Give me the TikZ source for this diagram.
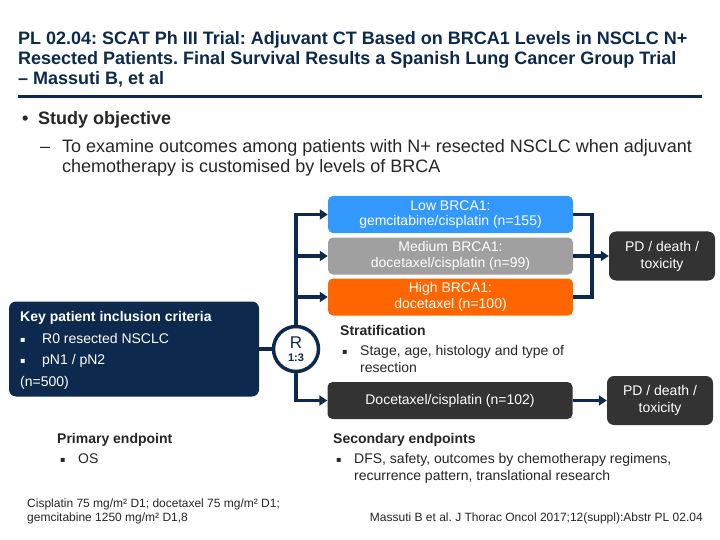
\documentclass[tikz,border=0pt]{standalone}
\usepackage{fontspec}
\setmainfont{Liberation Sans}
\newfontfamily\djv{DejaVu Sans}
\usetikzlibrary{arrows.meta}
\frenchspacing
\definecolor{navy}{HTML}{0D2A4E}
\definecolor{lowblue}{HTML}{3399FF}
\definecolor{medgray}{HTML}{A0A0A0}
\definecolor{hiorange}{HTML}{FF6600}
\definecolor{darkbox}{HTML}{333333}
\definecolor{bodytext}{HTML}{262626}
\tikzset{
  titletxt/.style={anchor=base west, inner sep=0, text=navy, font=\fontsize{18}{20}\selectfont\bfseries},
  bodytxt/.style={anchor=base west, inner sep=0, text=bodytext, font=\fontsize{18}{20}\selectfont},
  smalltxt/.style={anchor=base west, inner sep=0, text=bodytext, font=\fontsize{14}{16}\selectfont},
  smallbold/.style={anchor=base west, inner sep=0, text=bodytext, font=\fontsize{14}{16}\selectfont\bfseries},
  foottxt/.style={inner sep=0, text=bodytext, font=\fontsize{12}{14}\selectfont},
  armbox/.style={rectangle, rounded corners=5pt, minimum width=245, minimum height=37, inner sep=0, align=center, text=white, font=\fontsize{14}{15.5}\selectfont},
  pdbox/.style={rectangle, rounded corners=7pt, fill=darkbox, minimum width=106, minimum height=49, inner sep=0, align=center, text=white, font=\fontsize{14}{17}\selectfont},
  keytxt/.style={anchor=base west, inner sep=0, text=white, font=\fontsize{14}{16}\selectfont},
  sqbullet/.style={anchor=base west, inner sep=0, font=\djv\fontsize{8}{10}\selectfont},
  conn/.style={draw=navy, line width=3.5pt},
  arr/.style={conn, -{Triangle[length=8pt,width=10pt]}}
}
\begin{document}
\begin{tikzpicture}[x=1pt,y=-1pt]
\useasboundingbox[fill=white] (0,0) rectangle (720,540);
% title
\node[titletxt] (t1) at (18,45) {PL 02.04: SCAT Ph III Trial: Adjuvant CT Based on BRCA1 Levels in NSCLC N+};
\node[titletxt] (t2) at (18,65) {Resected Patients. Final Survival Results a Spanish Lung Cancer Group Trial};
\node[titletxt] (t3) at (18,85) {– Massuti B, et al};
\draw[navy, line width=3pt] (18,96.5) -- (702,96.5);
% objective
\node[bodytxt, font=\fontsize{18}{20}\selectfont\bfseries] (b1) at (22,125) {•};
\node[bodytxt, font=\fontsize{18}{20}\selectfont\bfseries] (so) at (38,125) {Study objective};
\node[bodytxt] (d1) at (40,153) {–};
\node[bodytxt] (o1) at (62,153) {To examine outcomes among patients with N+ resected NSCLC when adjuvant};
\node[bodytxt] (o2) at (62,173) {chemotherapy is customised by levels of BRCA};
% arms
\node[armbox, fill=lowblue] (low) at (450.5,214.5) {Low BRCA1:\\gemcitabine/cisplatin (n=155)};
\node[armbox, fill=medgray] (med) at (450.5,256) {Medium BRCA1:\\docetaxel/cisplatin (n=99)};
\node[armbox, fill=hiorange] (high) at (450.5,297) {High BRCA1:\\docetaxel (n=100)};
\node[armbox, fill=darkbox] (doc) at (450,400.5) {Docetaxel/cisplatin (n=102)};
\node[pdbox] (pd1) at (662,256) {PD / death /\\toxicity};
\node[pdbox] (pd2) at (660,400.5) {PD / death /\\toxicity};
% key box
\node[rectangle, rounded corners=7pt, fill=navy, minimum width=250, minimum height=95, inner sep=0] (key) at (134,349) {};
\node[keytxt, font=\fontsize{14}{16}\selectfont\bfseries] (k0) at (20,321) {Key patient inclusion criteria};
\node[sqbullet, text=white] (kb1) at (20,342) {▪};
\node[keytxt] (k1) at (42,343) {R0 resected NSCLC};
\node[sqbullet, text=white] (kb2) at (20,363) {▪};
\node[keytxt] (k2) at (42,364) {pN1 / pN2};
\node[keytxt] (k3) at (20,386) {(n=500)};
% randomisation
\node[circle, draw=navy, line width=3.5pt, fill=white, minimum size=45, inner sep=0] (r) at (296,349) {};
\node[inner sep=0, text=navy, font=\fontsize{17}{17}\selectfont] (rl) at (296,343) {R};
\node[inner sep=0, text=navy, font=\fontsize{11}{11}\selectfont\bfseries] (rr) at (296,358) {1:3};
% connectors
\draw[conn] (key.east) -- (r.west);
\draw[arr] (r.north) |- (low.west);
\draw[arr] (r.north |- med.west) -- (med.west);
\draw[arr] (r.north |- high.west) -- (high.west);
\draw[arr] (r.south) |- (doc.west);
\coordinate (jr) at (592,256);
\draw[conn] (low.east) -| (jr) |- (high.east);
\draw[arr] (med.east) -- (pd1.west);
\draw[arr] (doc.east) -- (pd2.west);
% stratification
\node[smallbold] (st) at (340,335) {Stratification};
\node[sqbullet, text=bodytext] (sb) at (342,354) {▪};
\node[smalltxt] (s1) at (360,355) {Stage, age, histology and type of};
\node[smalltxt] (s2) at (360,372) {resection};
% endpoints
\node[smallbold] (pe) at (57,443) {Primary endpoint};
\node[sqbullet, text=bodytext] (pb) at (60,462) {▪};
\node[smalltxt] (p1) at (78,463) {OS};
\node[smallbold] (se) at (333,443) {Secondary endpoints};
\node[sqbullet, text=bodytext] (sb2) at (336,462) {▪};
\node[smalltxt] (e1) at (354,463) {DFS, safety, outcomes by chemotherapy regimens,};
\node[smalltxt] (e2) at (354,480) {recurrence pattern, translational research};
% footnotes
\node[foottxt, anchor=base west] (f1) at (27,507) {Cisplatin 75 mg/m² D1; docetaxel 75 mg/m² D1;};
\node[foottxt, anchor=base west] (f2) at (27,521) {gemcitabine 1250 mg/m² D1,8};
\node[foottxt, anchor=base east] (cit) at (703,521) {Massuti B et al. J Thorac Oncol 2017;12(suppl):Abstr PL 02.04};
\end{tikzpicture}
\end{document}
